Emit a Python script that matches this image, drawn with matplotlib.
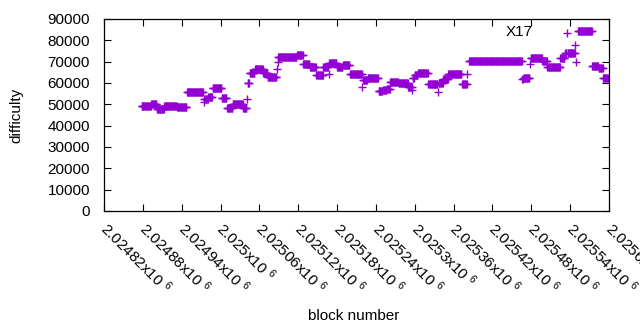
import numpy as np
import matplotlib
matplotlib.use("Agg")
import matplotlib.pyplot as plt
import matplotlib.transforms as mtransforms

plt.rcParams['font.family'] = ['Liberation Sans', 'DejaVu Sans']
plt.rcParams['mathtext.fontset'] = 'custom'
plt.rcParams['mathtext.rm'] = 'Liberation Sans'
plt.rcParams['mathtext.it'] = 'Liberation Sans'

# Runs of constant difficulty: first block, last block, difficulty
run_start = [2024878, 2024893, 2024902, 2024913, 2024933, 2024948, 2024974, 2024975, 2024981,
             2024988, 2025002, 2025010, 2025019, 2025035, 2025041, 2025042, 2025045, 2025053,
             2025066, 2025073, 2025087, 2025088, 2025089, 2025118, 2025128, 2025138, 2025148,
             2025159, 2025167, 2025168, 2025180, 2025189, 2025200, 2025219, 2025220, 2025227,
             2025244, 2025251, 2025257, 2025262, 2025275, 2025290, 2025296, 2025297, 2025300,
             2025305, 2025321, 2025336, 2025337, 2025344, 2025352, 2025373, 2025381, 2025384,
             2025466, 2025468, 2025478, 2025479, 2025497, 2025505, 2025525, 2025532, 2025535,
             2025536, 2025548, 2025549, 2025552, 2025574, 2025584, 2025591]
run_end = [2024892, 2024901, 2024912, 2024932, 2024947, 2024973, 2024974, 2024980, 2024987,
           2025001, 2025009, 2025018, 2025034, 2025040, 2025041, 2025044, 2025052, 2025065,
           2025072, 2025086, 2025087, 2025088, 2025117, 2025127, 2025137, 2025147, 2025158,
           2025166, 2025167, 2025179, 2025188, 2025199, 2025218, 2025219, 2025226, 2025243,
           2025250, 2025256, 2025261, 2025274, 2025289, 2025295, 2025296, 2025299, 2025304,
           2025320, 2025335, 2025336, 2025343, 2025351, 2025372, 2025380, 2025381, 2025465,
           2025467, 2025477, 2025478, 2025496, 2025504, 2025524, 2025531, 2025534, 2025535,
           2025547, 2025548, 2025549, 2025573, 2025583, 2025590, 2025598]
run_value = [49400, 50000, 48000, 49400, 48900, 55600, 51100, 52500, 53500,
             57700, 53000, 48400, 50000, 48400, 52500, 60100, 64500, 66400,
             64500, 63000, 66600, 69700, 72300, 73100, 68900, 67600, 63750,
             67300, 64200, 69200, 67600, 68400, 64000, 58300, 61400, 62200,
             56200, 56700, 57300, 60300, 59900, 58300, 56700, 62200, 63750,
             64500, 59500, 55900, 60000, 62000, 64200, 59400, 64200, 70300,
             61800, 62500, 68800, 71900, 70500, 67600, 71600, 73900, 83600,
             73900, 77800, 70000, 84200, 68000, 66900, 62200]

x_ticks = list(range(2024820, 2025601, 60))
x_tick_labels = ["%gx10 $^{6}$" % (t / 1e6) for t in x_ticks]
y_ticks = list(range(0, 90001, 10000))

label_text = "X17"
label_x = 2025461
label_y = 83900

blocks = []
diffs = []
for s, e, v in zip(run_start, run_end, run_value):
    b = np.arange(s, e + 1)
    blocks.append(b)
    diffs.append(np.full(len(b), v))
blocks = np.concatenate(blocks)
diffs = np.concatenate(diffs)

FS = 11

fig = plt.figure(figsize=(6.4, 3.3), dpi=100)
ax = fig.add_axes([104 / 640, 1 - 211 / 330, (609 - 104) / 640, (211 - 19) / 330])
ax.plot(blocks, diffs, linestyle='none', marker='+', color='#9400D3',
        markersize=5.5, markeredgewidth=1.0)

ax.set_xlim(2024820, 2025600)
ax.set_ylim(0, 90000)
ax.set_xticks(x_ticks)
ax.set_xticklabels(x_tick_labels, rotation=-45, ha='left', va='top',
                   rotation_mode='anchor', fontsize=FS)
ax.set_yticks(y_ticks)
ax.set_yticklabels([str(t) for t in y_ticks], fontsize=FS)
ax.tick_params(direction='in', length=5, width=0.8, top=True, right=True, pad=5)
ax.tick_params(axis='y', pad=10)
off = mtransforms.ScaledTranslation(6 / 100, -1 / 100, fig.dpi_scale_trans)
for lab in ax.get_xticklabels():
    lab.set_transform(lab.get_transform() + off)
for sp in ax.spines.values():
    sp.set_linewidth(0.9)

ax.text(label_x, label_y, label_text, ha='center', va='center', fontsize=FS)
ax.set_xlabel("block number", fontsize=FS)
ax.xaxis.set_label_coords((354 - 104) / 505, -(309 - 211) / 192)
ax.set_ylabel("difficulty", fontsize=FS)
ax.yaxis.set_label_coords(-(104 - 23) / 505, (211 - 115) / 192)

fig.savefig("out.png", dpi=100)
